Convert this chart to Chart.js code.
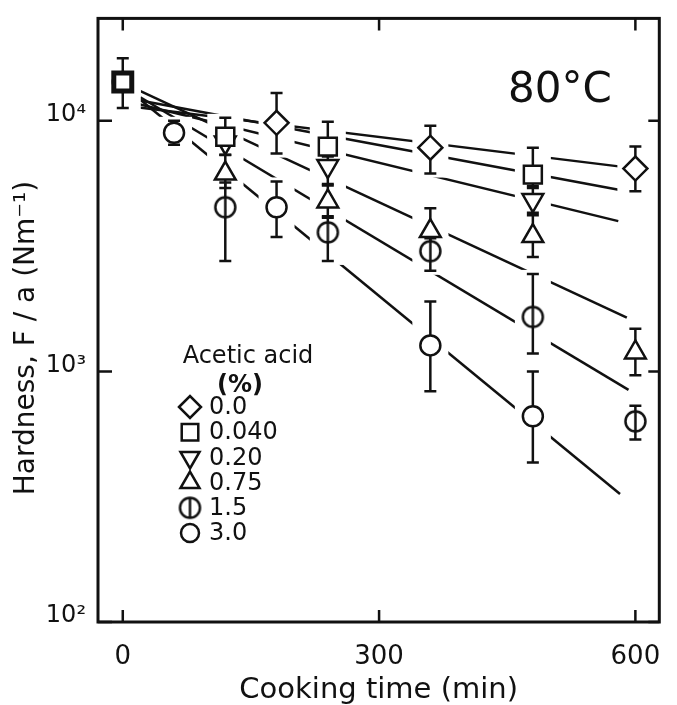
<!DOCTYPE html>
<html>
<head>
<meta charset="utf-8">
<script src="https://cdn.jsdelivr.net/npm/chart.js@4"></script>
<style>
  html, body { margin: 0; padding: 0; background: #fff; }
  #wrap { width: 677px; height: 705px; }
</style>
</head>
<body>
<div id="wrap"><canvas id="hardness"></canvas></div>
<script>
const ink = '#111';
const font = 'DejaVu Sans';

// legend labels (acetic acid %)
const concentrations = ['0.0', '0.040', '0.20', '0.75', '1.5', '3.0'];

// axis ticks
const xTickValues = [0, 300, 600];
const yTickValues = [100, 1000, 10000];
const yTickLabels = ['10²', '10³', '10⁴'];

// 0.0 %
const timeA = [180, 360, 600];
const hardA = [9820, 7810, 6450];
const hiA = [12920, 9550, 7890];
const loA = [7400, 6160, 5230];
// 0.040 %
const timeB = [0, 120, 240, 480];
const hardB = [14290, 8640, 7890, 6100];
const hiB = [17780, 10280, 9910, 7810];
const loB = [11260, 8000, 7200, 5500];
// 0.20 %
const timeC = [120, 240, 480];
const hardC = [8200, 6600, 4830];
const hiC = [8600, 7300, 5400];
const loC = [7300, 5520, 4300];
// 0.75 %
const timeD = [120, 240, 360, 480, 600];
const hardD = [6160, 4770, 3630, 3470, 1190];
const hiD = [7330, 5600, 4480, 4200, 1480];
const loD = [5400, 4160, 3200, 2860, 965];
// 1.5 %
const timeE = [120, 240, 360, 480, 600];
const hardE = [4520, 3590, 3020, 1650, 632];
const hiE = [5670, 4100, 3400, 2450, 730];
const loE = [2760, 2760, 2520, 1180, 535];
// 3.0 %
const timeF = [0, 60, 180, 360, 480];
const hardF = [14290, 8960, 4520, 1270, 662];
const hiF = [null, 10000, 5730, 1900, 1000];
const loF = [null, 8030, 3440, 833, 433];

// fitted lines: value at t = 0 and at the end time
const fitStart = [11520, 12430, 12090, 14160, 13680, 13870];
const fitEndTime = [590, 582, 580, 590, 592, 582];
const fitEnd = [6520, 5300, 3980, 1640, 844, 324];

function makePhi(r, lw) {
  const c = document.createElement('canvas');
  const s = Math.ceil(2 * r + lw + 2);
  c.width = c.height = s;
  const g = c.getContext('2d');
  g.lineWidth = lw;
  g.strokeStyle = ink;
  g.fillStyle = '#fff';
  g.beginPath();
  g.arc(s / 2, s / 2, r, 0, Math.PI * 2);
  g.fill();
  g.stroke();
  g.beginPath();
  g.moveTo(s / 2, s / 2 - r);
  g.lineTo(s / 2, s / 2 + r);
  g.stroke();
  return c;
}

const phi = makePhi(10, 2.5);

const markers = [
  { style: 'rectRot', radius: 12, rotation: 0 },
  { style: 'rect', radius: 12.7, rotation: 0 },
  { style: 'triangle', radius: 12, rotation: 180 },
  { style: 'triangle', radius: 12, rotation: 0 },
  { style: phi, radius: 10, rotation: 0 },
  { style: 'circle', radius: 10, rotation: 0 }
];

const series = [
  [timeA, hardA, hiA, loA],
  [timeB, hardB, hiB, loB],
  [timeC, hardC, hiC, loC],
  [timeD, hardD, hiD, loD],
  [timeE, hardE, hiE, loE],
  [timeF, hardF, hiF, loF]
];

const datasets = [];
series.forEach((s, i) => {
  datasets.push({
    label: concentrations[i],
    data: s[0].map((t, j) => ({ x: t, y: s[1][j] })),
    hi: s[2],
    lo: s[3],
    showLine: false,
    pointStyle: markers[i].style,
    pointRadius: markers[i].radius,
    pointRotation: markers[i].rotation,
    pointBackgroundColor: '#fff',
    pointBorderColor: ink,
    // the starting point is drawn over by several markers, so it reads heavier
    pointBorderWidth: c => (c.raw && c.raw.x === 0 && i === 1 ? 5 : 2.5),
    order: 1
  });
});
fitStart.forEach((v, i) => {
  datasets.push({
    type: 'line',
    label: 'fit ' + concentrations[i],
    data: [{ x: 0, y: v }, { x: fitEndTime[i], y: fitEnd[i] }],
    borderColor: ink,
    borderWidth: 2.5,
    pointRadius: 0,
    fill: false,
    order: 2
  });
});

// white gaps around each column, then the error bars, under the markers
const errorBars = {
  id: 'errorBars',
  beforeDatasetsDraw(chart) { chart.$barsDone = false; },
  beforeDatasetDraw(chart, args) {
    const ds = chart.data.datasets[args.index];
    if (!ds.hi || chart.$barsDone) return;
    chart.$barsDone = true;
    const { ctx, chartArea, scales: { x, y } } = chart;
    ctx.save();
    ctx.beginPath();
    ctx.rect(chartArea.left, chartArea.top, chartArea.width, chartArea.height);
    ctx.clip();
    ctx.fillStyle = '#fff';
    chart.data.datasets.forEach(d => {
      if (!d.hi) return;
      d.data.forEach((p, i) => {
        const px = x.getPixelForValue(p.x);
        const py = y.getPixelForValue(p.y);
        let top = py - 15, bot = py + 15;
        if (d.hi[i] != null) {
          top = Math.min(top, y.getPixelForValue(d.hi[i]) - 4);
          bot = Math.max(bot, y.getPixelForValue(d.lo[i]) + 4);
        }
        ctx.fillRect(px - 18, top, 36, bot - top);
      });
    });
    ctx.strokeStyle = ink;
    ctx.lineWidth = 2.5;
    chart.data.datasets.forEach(d => {
      if (!d.hi) return;
      d.data.forEach((p, i) => {
        if (d.hi[i] == null) return;
        const px = x.getPixelForValue(p.x);
        const yh = y.getPixelForValue(d.hi[i]);
        const yl = y.getPixelForValue(d.lo[i]);
        ctx.beginPath();
        ctx.moveTo(px, yh); ctx.lineTo(px, yl);
        ctx.moveTo(px - 6, yh); ctx.lineTo(px + 6, yh);
        ctx.moveTo(px - 6, yl); ctx.lineTo(px + 6, yl);
        ctx.stroke();
      });
    });
    ctx.restore();
  }
};

// frame, inward ticks, y title, temperature note and legend
const decorations = {
  id: 'decorations',
  afterDraw(chart) {
    const { ctx, chartArea: a, scales: { x, y } } = chart;
    ctx.save();
    ctx.strokeStyle = ink;
    ctx.lineWidth = 3;
    ctx.strokeRect(a.left, a.top, a.width, a.height);
    ctx.lineWidth = 2.5;
    ctx.beginPath();
    xTickValues.forEach(v => {
      const px = x.getPixelForValue(v);
      ctx.moveTo(px, a.bottom); ctx.lineTo(px, a.bottom - 12);
      ctx.moveTo(px, a.top); ctx.lineTo(px, a.top + 12);
    });
    yTickValues.forEach(v => {
      const py = y.getPixelForValue(v);
      ctx.moveTo(a.left, py); ctx.lineTo(a.left + 14, py);
      ctx.moveTo(a.right, py); ctx.lineTo(a.right - 11, py);
    });
    ctx.stroke();

    ctx.fillStyle = ink;
    ctx.textAlign = 'center';
    ctx.textBaseline = 'middle';

    ctx.save();
    ctx.translate(27, 338);
    ctx.rotate(-Math.PI / 2);
    ctx.font = '28px "' + font + '"';
    ctx.fillText('Hardness, F / a (Nm⁻¹)', 0, 0);
    ctx.restore();

    ctx.font = '42px "' + font + '"';
    ctx.fillText('80°C', 560, 91);

    ctx.font = '24px "' + font + '"';
    ctx.fillText('Acetic acid', 248, 357);
    ctx.font = 'bold 24px "' + font + '"';
    ctx.fillText('(%)', 240, 386);
    ctx.textAlign = 'left';
    ctx.font = '24px "' + font + '"';
    concentrations.forEach((c, i) => {
      const ly = 407 + i * 25.2;
      const m = markers[i];
      ctx.fillStyle = '#fff';
      ctx.strokeStyle = ink;
      ctx.lineWidth = 2.5;
      if (typeof m.style === 'string') {
        Chart.helpers.drawPoint(ctx, {
          pointStyle: m.style, radius: m.radius - 1, rotation: m.rotation, borderWidth: 2.5
        }, 190, ly);
      } else {
        ctx.drawImage(m.style, 190 - m.style.width / 2, ly - m.style.height / 2);
      }
      ctx.fillStyle = ink;
      ctx.fillText(c, 209, ly + 1);
    });
    ctx.restore();
  }
};

new Chart(document.getElementById('hardness'), {
  type: 'scatter',
  data: { datasets: datasets },
  options: {
    responsive: true,
    maintainAspectRatio: false,
    animation: false,
    events: [],
    layout: { padding: { top: 13, right: 4, left: 0, bottom: 0 } },
    plugins: { legend: { display: false }, tooltip: { enabled: false } },
    scales: {
      x: {
        type: 'linear',
        min: -29,
        max: 628,
        afterFit: s => { s.height = 83; },
        afterBuildTicks: s => { s.ticks = xTickValues.map(v => ({ value: v })); },
        grid: { display: false },
        border: { display: false },
        ticks: { color: ink, padding: 12, font: { family: font, size: 26 } },
        title: {
          display: true, text: 'Cooking time (min)', color: ink,
          font: { family: font, size: 29, lineHeight: 1 }, padding: 0
        }
      },
      y: {
        type: 'logarithmic',
        min: 100,
        max: 25630,
        afterFit: s => { s.width = 98; },
        afterBuildTicks: s => { s.ticks = yTickValues.map(v => ({ value: v })); },
        grid: { display: false },
        border: { display: false },
        ticks: {
          color: ink, padding: 4, labelOffset: -6,
          font: { family: font, size: 24 },
          callback: v => yTickLabels[yTickValues.indexOf(v)]
        }
      }
    }
  },
  plugins: [errorBars, decorations]
});
</script>
</body>
</html>
